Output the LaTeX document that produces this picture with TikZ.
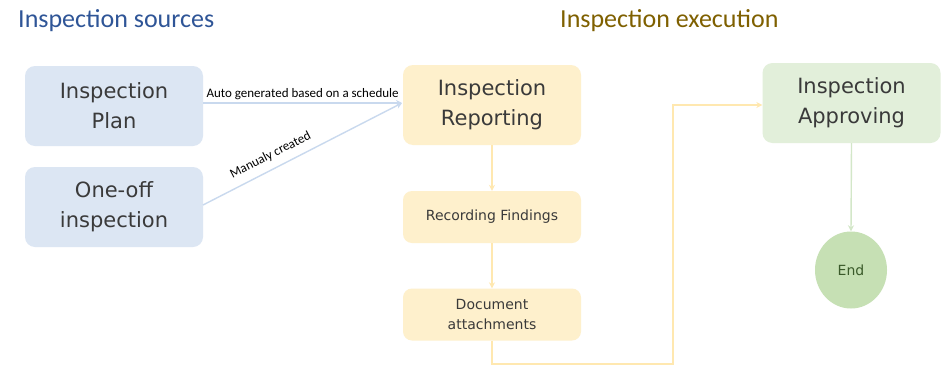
\documentclass[tikz,border=0pt]{standalone}
\usepackage{fontspec}
\setmainfont{DejaVu Sans}
\newfontfamily\calib{Carlito}
\usetikzlibrary{arrows.meta,shapes.geometric}
\definecolor{bluefill}{HTML}{DCE6F3}
\definecolor{yelfill}{HTML}{FEF0CC}
\definecolor{grnfill}{HTML}{E2EFDA}
\definecolor{endfill}{HTML}{C6E0B4}
\definecolor{boxtext}{HTML}{3A3A3A}
\definecolor{endtext}{HTML}{3A5A2A}
\definecolor{bluetitle}{HTML}{2F5597}
\definecolor{oltitle}{HTML}{7F6000}
\definecolor{blueline}{HTML}{C9D9EE}
\definecolor{yelline}{HTML}{FFE8B0}
\definecolor{grnline}{HTML}{D3E7C8}
\tikzset{
  bigbox/.style={rounded corners=10pt, minimum width=178pt, minimum height=80pt, inner sep=0pt,
     text=boxtext, font=\fontsize{21}{30}\selectfont, align=center},
  smallbox/.style={rounded corners=9pt, minimum width=178pt, minimum height=52pt, inner sep=0pt,
     text=boxtext, font=\fontsize{14}{20}\selectfont, align=center, fill=yelfill},
  conn/.style={line width=1.4pt, -{Stealth[length=6pt,width=6pt]}},
  lbl/.style={font=\calib\fontsize{13}{14}\selectfont, text=black, inner sep=2pt},
  title/.style={font=\calib\fontsize{26}{30}\selectfont, inner sep=0pt, anchor=west}
}
\begin{document}
\begin{tikzpicture}[x=1pt,y=-1pt]
\useasboundingbox[fill=white] (0,0) rectangle (942,367);
\node[title, text=bluetitle] (t1) at (18,21) {Inspection sources};
\node[title, text=oltitle] (t2) at (560,21) {Inspection execution};

\node[bigbox, fill=bluefill] (plan) at (114,106) {Inspection\\Plan};
\node[bigbox, fill=bluefill] (oneoff) at (114,207) {One-off\\inspection};
\node[bigbox, fill=yelfill] (rep) at (492,105) {Inspection\\Reporting};
\node[smallbox] (rec) at (492,217) {Recording Findings};
\node[smallbox] (doc) at (492,314.5) {Document\\attachments};
\node[bigbox, fill=grnfill] (appr) at (851.5,103) {Inspection\\Approving};
\node[ellipse, fill=endfill, minimum width=72pt, minimum height=77pt, inner sep=0pt,
      text=endtext, font=\fontsize{14}{16}\selectfont] (end) at (851,270) {End};

\coordinate (tgt) at (402,103);
\draw[conn, blueline] (plan.east |- tgt) -- (tgt)
   node[lbl, midway, above, yshift=1pt] {Auto generated based on a schedule};
\draw[conn, blueline] (203,205) -- (tgt)
   node[lbl, pos=0.37, above, sloped, yshift=5pt] {Manualy created};

\draw[conn, yelline] (rep.south) -- (rec.north);
\draw[conn, yelline] (rec.south) -- (doc.north);
\coordinate (c1) at (492,364);
\coordinate (c2) at (673,364);
\coordinate (c3) at (673,105);
\draw[conn, yelline] (doc.south) -- (c1) -- (c2) -- (c3) -- (appr.west |- c3);
\draw[conn, grnline] (appr.south) -- (end.north);
\end{tikzpicture}
\end{document}
